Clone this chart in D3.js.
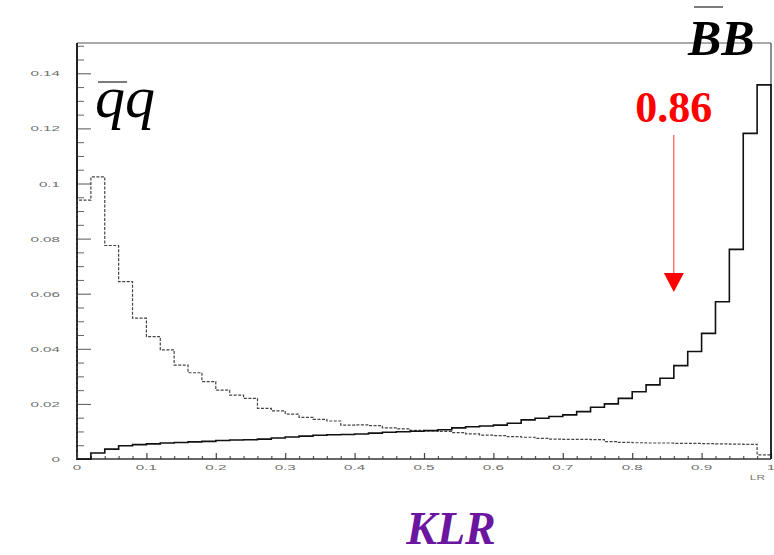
<!DOCTYPE html>
<html>
<head>
<meta charset="utf-8">
<script src="https://cdn.jsdelivr.net/npm/d3@7"></script>
<style>
  html, body { margin: 0; padding: 0; background: #fff; }
  svg { display: block; }
</style>
</head>
<body>
<svg id="chart" width="774" height="555"></svg>
<script>
// Bin edges of the likelihood-ratio histograms (50 bins on [0, 1])
const binEdges = [0.00,0.02,0.04,0.06,0.08,0.10,0.12,0.14,0.16,0.18,
                  0.20,0.22,0.24,0.26,0.28,0.30,0.32,0.34,0.36,0.38,
                  0.40,0.42,0.44,0.46,0.48,0.50,0.52,0.54,0.56,0.58,
                  0.60,0.62,0.64,0.66,0.68,0.70,0.72,0.74,0.76,0.78,
                  0.80,0.82,0.84,0.86,0.88,0.90,0.92,0.94,0.96,0.98,1.00];

// Normalised content per bin: B-Bbar signal (solid)
const bbValues = [0.0000,0.0022,0.0036,0.0048,0.0052,0.0055,0.0058,0.0060,0.0062,0.0064,
                  0.0067,0.0069,0.0070,0.0072,0.0076,0.0080,0.0083,0.0086,0.0088,0.0089,
                  0.0091,0.0094,0.0097,0.0099,0.0101,0.0103,0.0106,0.0113,0.0117,0.0120,
                  0.0123,0.0130,0.0142,0.0148,0.0154,0.0160,0.0172,0.0188,0.0200,0.0220,
                  0.0244,0.0269,0.0293,0.0339,0.0390,0.0456,0.0571,0.0761,0.1182,0.1358];

// Normalised content per bin: continuum q-qbar background (dashed)
const qqValues = [0.0940,0.1024,0.0775,0.0644,0.0511,0.0444,0.0396,0.0341,0.0313,0.0281,
                  0.0250,0.0232,0.0220,0.0184,0.0175,0.0163,0.0151,0.0144,0.0138,0.0123,
                  0.0124,0.0121,0.0113,0.0109,0.0104,0.0102,0.0100,0.0096,0.0091,0.0087,
                  0.0085,0.0081,0.0079,0.0075,0.0072,0.0071,0.0071,0.0070,0.0063,0.0060,
                  0.0059,0.0058,0.0058,0.0057,0.0057,0.0056,0.0055,0.0054,0.0053,0.0015];

const yTickValues = [0, 0.02, 0.04, 0.06, 0.08, 0.10, 0.12, 0.14];
const yTickLabels = ["0", "0.02", "0.04", "0.06", "0.08", "0.1", "0.12", "0.14"];
const xTickValues = [0, 0.1, 0.2, 0.3, 0.4, 0.5, 0.6, 0.7, 0.8, 0.9, 1.0];
const xTickLabels = ["0", "0.1", "0.2", "0.3", "0.4", "0.5", "0.6", "0.7", "0.8", "0.9", "1"];

const cutValue = 0.86;
const cutLabel = "0.86";

const svg = d3.select("#chart");

const x = d3.scaleLinear().domain([0, 1]).range([77, 771]);
const y = d3.scaleLinear().domain([0, 0.151]).range([459, 43]);

// Frame
const frame = svg.append("g");
frame.append("line").attr("x1", x(0)).attr("x2", x(1)).attr("y1", y(0.151)).attr("y2", y(0.151))
  .attr("stroke", "#555").attr("stroke-width", 1);
frame.append("line").attr("x1", x(1)).attr("x2", x(1)).attr("y1", y(0.151)).attr("y2", y(0))
  .attr("stroke", "#444").attr("stroke-width", 1.2);

// Y axis: ticks point inwards
const yMinor = d3.range(0, 0.1505, 0.005).filter(v => !yTickValues.some(t => Math.abs(t - v) < 1e-6));
const yAxis = d3.axisRight(y).tickValues(yTickValues).tickSize(14).tickFormat("");
const gY = svg.append("g").attr("transform", `translate(${x(0)},0)`).call(yAxis);
gY.select(".domain").remove();
gY.selectAll(".tick line").attr("stroke", "#555").attr("stroke-width", 1);
const gYm = svg.append("g").attr("transform", `translate(${x(0)},0)`)
  .call(d3.axisRight(y).tickValues(yMinor).tickSize(7).tickFormat(""));
gYm.select(".domain").remove();
gYm.selectAll(".tick line").attr("stroke", "#666").attr("stroke-width", 1);
svg.append("line").attr("x1", x(0)).attr("x2", x(0)).attr("y1", y(0.151)).attr("y2", y(0) + 1)
  .attr("stroke", "#222").attr("stroke-width", 2);

// X axis: ticks point upwards
const xMinor = d3.range(0, 1.0001, 0.02).filter(v => !xTickValues.some(t => Math.abs(t - v) < 1e-6));
const gX = svg.append("g").attr("transform", `translate(0,${y(0)})`)
  .call(d3.axisTop(x).tickValues(xTickValues).tickSize(6).tickFormat(""));
gX.select(".domain").remove();
gX.selectAll(".tick line").attr("stroke", "#444").attr("stroke-width", 1.2);
const gXm = svg.append("g").attr("transform", `translate(0,${y(0)})`)
  .call(d3.axisTop(x).tickValues(xMinor).tickSize(3).tickFormat(""));
gXm.select(".domain").remove();
gXm.selectAll(".tick line").attr("stroke", "#555").attr("stroke-width", 1.2);
svg.append("line").attr("x1", x(0)).attr("x2", x(1)).attr("y1", y(0)).attr("y2", y(0))
  .attr("stroke", "#333").attr("stroke-width", 1.5);

// Tick labels (wide, light grey lettering)
const labelFont = "Liberation Sans, Arial, sans-serif";
svg.append("g").selectAll("text").data(yTickValues).join("text")
  .attr("transform", d => `translate(60,${y(d) + 3}) scale(1.9,1)`)
  .attr("text-anchor", "end")
  .attr("font-family", labelFont).attr("font-size", 8)
  .attr("fill", "#6f6f6f")
  .text((d, i) => yTickLabels[i]);
svg.append("g").selectAll("text").data(xTickValues).join("text")
  .attr("transform", d => `translate(${x(d)},${y(0) + 11}) scale(1.9,1)`)
  .attr("text-anchor", "middle")
  .attr("font-family", labelFont).attr("font-size", 8)
  .attr("fill", "#6f6f6f")
  .text((d, i) => xTickLabels[i]);
svg.append("text")
  .attr("transform", `translate(765,${y(0) + 21}) scale(1.7,1)`)
  .attr("text-anchor", "end")
  .attr("font-family", labelFont).attr("font-size", 7)
  .attr("fill", "#777")
  .text("LR");

// Histogram outlines
function histPoints(values) {
  const pts = [[binEdges[0], 0]];
  values.forEach((v, i) => pts.push([binEdges[i], v]));
  pts.push([binEdges[binEdges.length - 1], values[values.length - 1]]);
  pts.push([binEdges[binEdges.length - 1], 0]);
  return pts;
}
const stepLine = d3.line().x(d => x(d[0])).y(d => y(d[1])).curve(d3.curveStepAfter);

svg.append("path").datum(histPoints(qqValues))
  .attr("d", stepLine)
  .attr("fill", "none").attr("stroke", "#444").attr("stroke-width", 1.2)
  .attr("stroke-dasharray", "3,1.5");

svg.append("path").datum(histPoints(bbValues))
  .attr("d", stepLine)
  .attr("fill", "none").attr("stroke", "#111").attr("stroke-width", 1.6);

// Cut marker
const cx = x(cutValue);
svg.append("line").attr("x1", cx).attr("x2", cx).attr("y1", 135).attr("y2", 276)
  .attr("stroke", "#ff3030").attr("stroke-width", 1);
svg.append("path")
  .attr("d", `M${cx - 10},273 L${cx + 10},273 L${cx},292 Z`)
  .attr("fill", "#ff0000");
svg.append("text")
  .attr("x", cx).attr("y", 122)
  .attr("text-anchor", "middle")
  .attr("font-family", "Liberation Serif, Times New Roman, serif")
  .attr("font-weight", "bold").attr("font-size", 44)
  .attr("fill", "#ff0000")
  .text(cutLabel);

// Sample labels
const serif = "Liberation Serif, Times New Roman, serif";
svg.append("text").attr("x", 95).attr("y", 117)
  .attr("font-family", serif).attr("font-style", "italic").attr("font-size", 60)
  .attr("fill", "#000").text("qq");
svg.append("line").attr("x1", 98).attr("x2", 127).attr("y1", 82).attr("y2", 82)
  .attr("stroke", "#333").attr("stroke-width", 1.3);

svg.append("text").attr("x", 688).attr("y", 55)
  .attr("font-family", serif).attr("font-style", "italic").attr("font-weight", "bold")
  .attr("font-size", 50).attr("fill", "#000").text("BB");
svg.append("line").attr("x1", 694).attr("x2", 723).attr("y1", 7).attr("y2", 7)
  .attr("stroke", "#333").attr("stroke-width", 1.3);

// Axis title
svg.append("text").attr("x", 451).attr("y", 544)
  .attr("text-anchor", "middle")
  .attr("font-family", serif).attr("font-style", "italic").attr("font-weight", "bold")
  .attr("font-size", 46).attr("fill", "#6a16a0").text("KLR");
</script>
</body>
</html>
